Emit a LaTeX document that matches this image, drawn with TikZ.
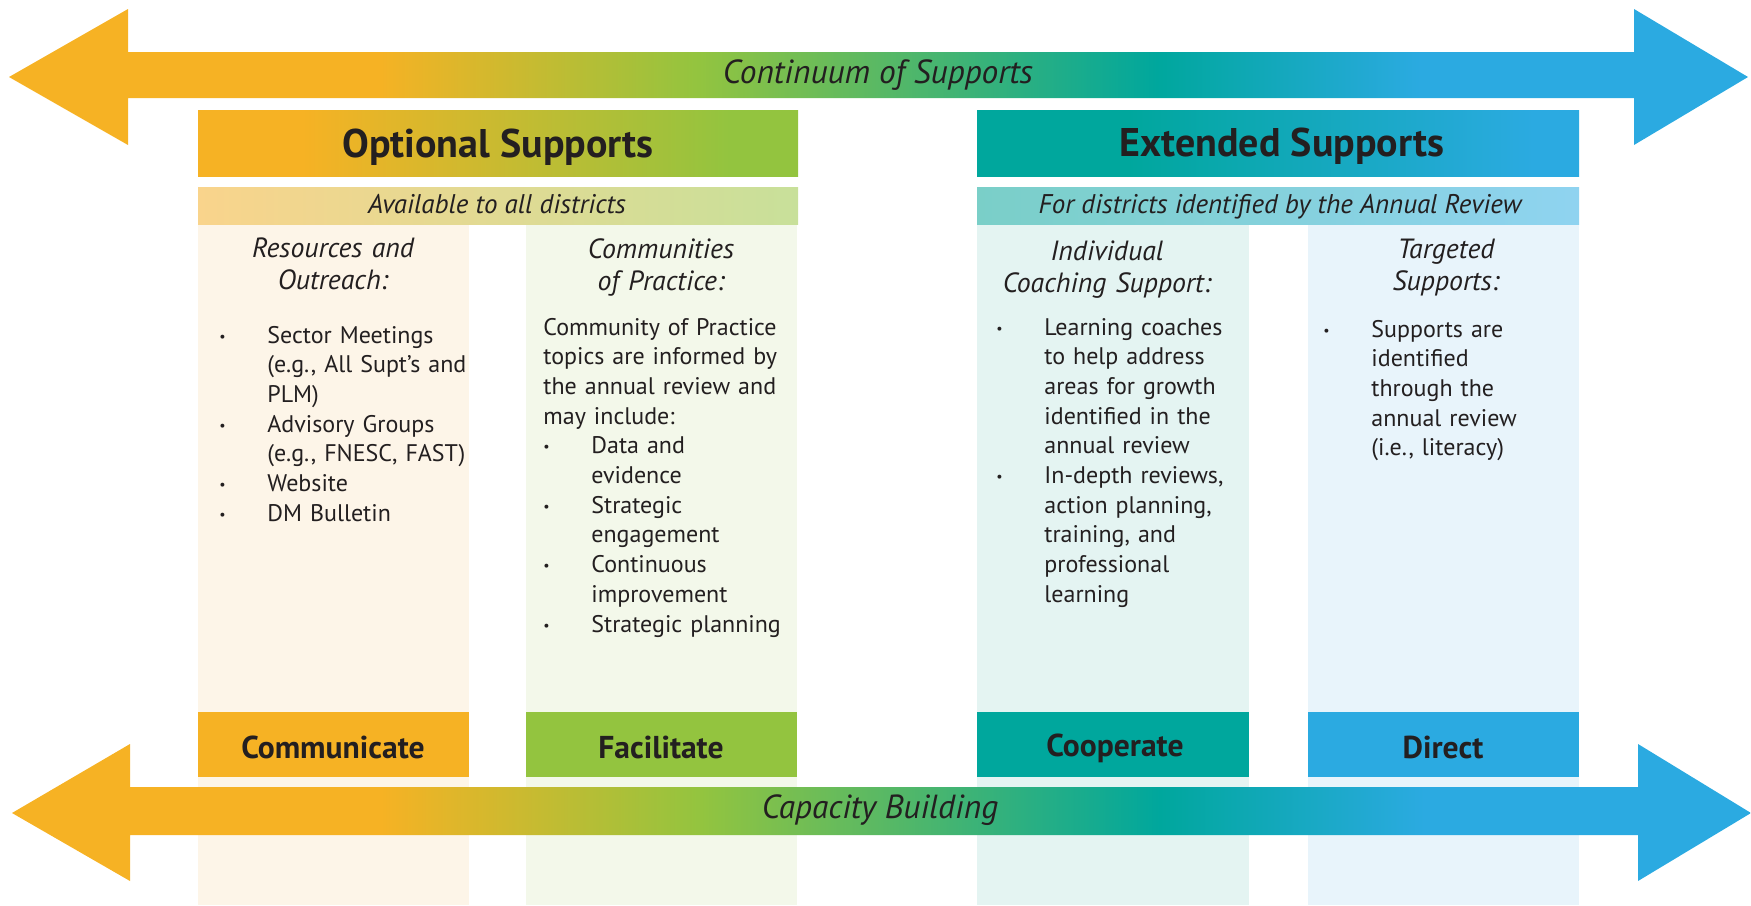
\documentclass[tikz,border=0pt]{standalone}
\usepackage{fontspec}
\setmainfont{PT Sans}
\usepackage{tikz}

\definecolor{corange}{HTML}{F6B224}
\definecolor{cgreen}{HTML}{93C43F}
\definecolor{cteal}{HTML}{00A79D}
\definecolor{cblue}{HTML}{2BAAE1}
\definecolor{txt}{HTML}{231F20}
\definecolor{colres}{HTML}{FDF5E8}
\definecolor{colcomm}{HTML}{F3F8EA}
\definecolor{colcoach}{HTML}{E4F4F2}
\definecolor{coltarg}{HTML}{E8F4FB}
\definecolor{availl}{HTML}{F9D48C}
\definecolor{availr}{HTML}{C8E09A}
\definecolor{identl}{HTML}{7ACFC8}
\definecolor{identr}{HTML}{8FD3F0}

\pgfdeclarehorizontalshading{arrowshade}{100bp}{color(0bp)=(corange); color(35.6bp)=(corange); color(44.8bp)=(cgreen); color(58bp)=(cteal); color(65.6bp)=(cblue); color(100bp)=(cblue)}
\pgfdeclarehorizontalshading{optshade}{100bp}{color(0bp)=(corange); color(33.7bp)=(corange); color(69.3bp)=(cgreen); color(100bp)=(cgreen)}
\pgfdeclarehorizontalshading{extshade}{100bp}{color(0bp)=(cteal); color(37.5bp)=(cteal); color(71.2bp)=(cblue); color(100bp)=(cblue)}

\newcommand{\bitem}{\makebox[24pt][l]{\raisebox{1pt}{\scriptsize\textbullet}}}
\newcommand{\bcont}{\hspace*{24pt}}

\begin{document}
\begin{tikzpicture}[x=0.5pt,y=-0.5pt]
\tikzstyle{every node}=[text=txt,inner sep=0pt];
\tikzstyle{arrowlabel}=[font=\fontsize{16.7}{19}\selectfont\itshape,anchor=base];
\tikzstyle{headlabel}=[font=\fontsize{20}{23}\selectfont\bfseries,anchor=base];
\tikzstyle{bandlabel}=[font=\fontsize{13.5}{15}\selectfont\itshape,anchor=base];
\tikzstyle{colhead}=[font=\fontsize{13.9}{16}\selectfont\itshape,align=center,text width=130pt,anchor=base];
\tikzstyle{body}=[font=\fontsize{12}{14.85}\selectfont,align=left,text width=135pt,anchor=base west];
\tikzstyle{footlabel}=[font=\fontsize{15.8}{18}\selectfont\bfseries,anchor=base];
\useasboundingbox (0,0) rectangle (1751,905);
\fill[colres] (198,224) rectangle (469,905);
\fill[colcomm] (526,224) rectangle (797,905);
\fill[colcoach] (977,224) rectangle (1249,905);
\fill[coltarg] (1308,224) rectangle (1579,905);
\shade[shading=optshade] (198,110) rectangle (798,176);
\shade[shading=extshade] (977,110) rectangle (1579,176);
\shade[left color=availl,right color=availr] (198,187) rectangle (798,224);
\shade[left color=identl,right color=identr] (977,187) rectangle (1579,224);
\fill[corange] (198,712) rectangle (469,777);
\fill[cgreen] (526,712) rectangle (797,777);
\fill[cteal] (977,712) rectangle (1249,777);
\fill[cblue] (1308,712) rectangle (1579,777);
\shade[shading=arrowshade] (9,77) -- (128,9) -- (128,52) -- (1634,52) -- (1634,9) -- (1748,77)
  -- (1634,145) -- (1634,98) -- (128,98) -- (128,145) -- cycle;
\shade[shading=arrowshade] (12,813) -- (130,744) -- (130,787) -- (1638,787) -- (1638,744) -- (1751,813)
  -- (1638,881) -- (1638,835) -- (130,835) -- (130,881) -- cycle;
\path (878,83) node[arrowlabel] (cont) {Continuum of Supports};
\path (880,818) node[arrowlabel] (capb) {Capacity Building};
\path (498,157) node[headlabel] (opt) {Optional Supports};
\path (1282,156) node[headlabel] (ext) {Extended Supports};
\path (497,213) node[bandlabel] (avail) {Available to all districts};
\path (1280,213) node[bandlabel] (ident) {For districts identified by the Annual Review};
\path (333,257) node[colhead] (res) {Resources and\\Outreach:};
\path (661,258) node[colhead] (comm) {Communities\\of Practice:};
\path (1107,260) node[colhead] (coach) {Individual\\Coaching Support:};
\path (1446,258) node[colhead] (targ) {Targeted\\Supports:};
\path (219,343) node[body] (resbody) {\bitem Sector Meetings\\\bcont (e.g., All Supt’s and\\\bcont PLM)\\\bitem Advisory Groups\\\bcont (e.g., FNESC, FAST)\\\bitem Website\\\bitem DM Bulletin};
\path (543,335) node[body] (commbody) {Community of Practice\\topics are informed by\\the annual review and\\may include:\\\bitem Data and\\\bcont evidence\\\bitem Strategic\\\bcont engagement\\\bitem Continuous\\\bcont improvement\\\bitem Strategic planning};
\path (996,335) node[body] (coachbody) {\bitem Learning coaches\\\bcont to help address\\\bcont areas for growth\\\bcont identified in the\\\bcont annual review\\\bitem In-depth reviews,\\\bcont action planning,\\\bcont training, and\\\bcont professional\\\bcont learning};
\path (1323,337) node[body] (targbody) {\bitem Supports are\\\bcont identified\\\bcont through the\\\bcont annual review\\\bcont (i.e., literacy)};
\path (333,758) node[footlabel] (communicate) {Communicate};
\path (661,758) node[footlabel] (facilitate) {Facilitate};
\path (1115,756) node[footlabel] (cooperate) {Cooperate};
\path (1443,758) node[footlabel] (direct) {Direct};
\end{tikzpicture}
\end{document}
